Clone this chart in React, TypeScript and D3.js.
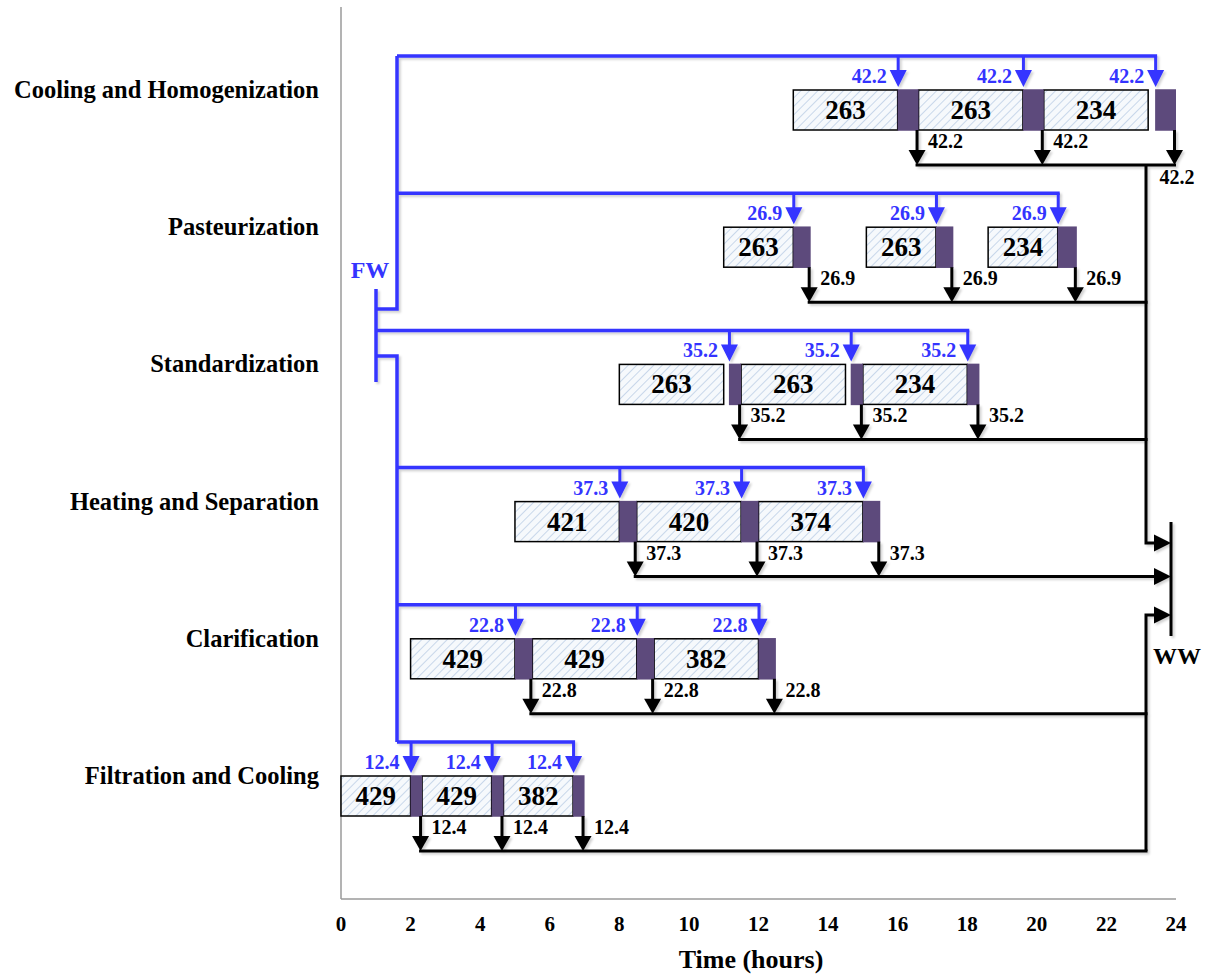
import React from "react";
import * as d3 from "d3";

const processes = [
  "Cooling and Homogenization",
  "Pasteurization",
  "Standardization",
  "Heating and Separation",
  "Clarification",
  "Filtration and Cooling",
];
const flowValues = [42.2, 26.9, 35.2, 37.3, 22.8, 12.4];
const taskStarts = [
  [13, 16.6, 20.2],
  [11, 15.1, 18.6],
  [8, 11.5, 15],
  [5, 8.5, 12],
  [2, 5.5, 9],
  [0, 2.33, 4.67],
];
const taskEnds = [
  [16, 19.6, 23.2],
  [13, 17.1, 20.6],
  [11, 14.5, 18],
  [8, 11.5, 15],
  [5, 8.5, 12],
  [2, 4.33, 6.67],
];
const taskLoads = [
  [263, 263, 234],
  [263, 263, 234],
  [263, 263, 234],
  [421, 420, 374],
  [429, 429, 382],
  [429, 429, 382],
];
const cleanStarts = [
  [16, 19.6, 23.4],
  [13, 17.1, 20.6],
  [11.15, 14.65, 18],
  [8, 11.5, 15],
  [5, 8.5, 12],
  [2, 4.33, 6.67],
];
const cleanEnds = [
  [16.6, 20.2, 24],
  [13.5, 17.6, 21.15],
  [11.5, 15, 18.35],
  [8.5, 12, 15.5],
  [5.5, 9, 12.5],
  [2.33, 4.67, 7],
];
const tickValues = [0, 2, 4, 6, 8, 10, 12, 14, 16, 18, 20, 22, 24];

const BLUE = "#3434ff";
const PURPLE = "#5d4a7c";
const FONT = "'Liberation Serif', 'Times New Roman', serif";

export default function App() {
  const W = 1205, H = 976;
  const x = d3.scaleLinear().domain([0, 24]).range([341, 1176]);
  const y = d3.scalePoint<string>().domain(processes).range([90, 776]);
  const boxH = 40;
  const blueOff = 34;
  const blackOff = 75;
  const axisY = 899;

  const trunkX = 376;
  const branchX = 397;
  const collectorX = 1146;
  const wwX = 1171;
  const wwTop = 522, wwBot = 636;
  const upperArrowY = 543;
  const lowerArrowY = 615;

  const blueLineY = (i: number) => (y(processes[i]) as number) - blueOff;
  const blackLineY = (i: number) => (y(processes[i]) as number) + blackOff;

  const downArrow = (ax: number, y0: number, tip: number, color: string, key: string, head = 16) => (
    <g key={key}>
      <line x1={ax} x2={ax} y1={y0} y2={tip - head + 2} stroke={color} strokeWidth={3} />
      <polygon points={`${ax - 8.5},${tip - head} ${ax + 8.5},${tip - head} ${ax},${tip}`} fill={color} />
    </g>
  );
  const rightArrowHead = (tipX: number, ay: number, key: string) => (
    <polygon key={key} points={`${tipX - 17},${ay - 8.5} ${tipX - 17},${ay + 8.5} ${tipX},${ay}`} fill="#000" />
  );

  const stdIndex = processes.indexOf("Standardization");
  const heatIndex = processes.indexOf("Heating and Separation");
  const topIdx = 0;
  const botIdx = processes.length - 1;

  return (
    <svg width={W} height={H} style={{ position: "absolute", left: 0, top: 0, background: "#fff" }} fontFamily={FONT}>
      <defs>
        <pattern id="hatch" width="6" height="6" patternUnits="userSpaceOnUse" patternTransform="rotate(45)">
          <rect width="6" height="6" fill="#f6f9fc" />
          <line x1="0" y1="0" x2="0" y2="6" stroke="#bccfe6" strokeWidth="1.6" />
        </pattern>
        <filter id="shadow" x="-5%" y="-5%" width="110%" height="110%">
          <feDropShadow dx="2" dy="2" stdDeviation="0.8" floodColor="#000" floodOpacity="0.18" />
        </filter>
      </defs>

      {/* axes */}
      <line x1={x(0)} x2={x(0)} y1={7} y2={axisY} stroke="#9a9a9a" strokeWidth={1.5} />
      <line x1={x(0)} x2={x(24)} y1={axisY} y2={axisY} stroke="#9a9a9a" strokeWidth={1.5} />
      {tickValues.map((t) => (
        <text key={"t" + t} x={x(t)} y={931} textAnchor="middle" fontSize={21} fontWeight="bold">
          {t}
        </text>
      ))}
      <text x={751} y={968} textAnchor="middle" fontSize={26} fontWeight="bold">
        Time (hours)
      </text>

      {/* row labels */}
      {processes.map((p) => (
        <text key={"l" + p} x={319} y={(y(p) as number) + 8} textAnchor="end" fontSize={24.5} fontWeight="bold">
          {p}
        </text>
      ))}

      {/* boxes */}
      {processes.map((p, i) => (
        <g key={"b" + p}>
          {taskStarts[i].map((s, j) => (
            <g key={j}>
              <rect
                x={x(s)}
                y={y(p) as number}
                width={x(taskEnds[i][j]) - x(s)}
                height={boxH}
                fill="url(#hatch)"
                stroke="#000"
                strokeWidth={1.5}
              />
              <text
                x={(x(s) + x(taskEnds[i][j])) / 2}
                y={(y(p) as number) + 29}
                textAnchor="middle"
                fontSize={27}
                fontWeight="bold"
              >
                {taskLoads[i][j]}
              </text>
            </g>
          ))}
          {cleanStarts[i].map((s, j) => (
            <rect
              key={"c" + j}
              x={x(s)}
              y={(y(p) as number) - 0.75}
              width={x(cleanEnds[i][j]) - x(s)}
              height={boxH + 1.5}
              fill={PURPLE}
            />
          ))}
        </g>
      ))}

      {/* fresh water network */}
      <g filter="url(#shadow)">
        <line x1={trunkX} x2={trunkX} y1={289} y2={382} stroke={BLUE} strokeWidth={3.5} />
        <polyline
          points={`${trunkX},309 ${branchX},309 ${branchX},${blueLineY(topIdx)}`}
          fill="none"
          stroke={BLUE}
          strokeWidth={3.5}
        />
        <polyline
          points={`${trunkX},356 ${branchX},356 ${branchX},${blueLineY(botIdx)}`}
          fill="none"
          stroke={BLUE}
          strokeWidth={3.5}
        />
        {processes.map((p, i) => {
          const ly = blueLineY(i);
          const startX = i === stdIndex ? trunkX : branchX;
          const ends = cleanStarts[i].map((s) => x(s) + 0.5);
          return (
            <g key={"fw" + p}>
              <line x1={startX} x2={ends[ends.length - 1] + 1.5} y1={ly} y2={ly} stroke={BLUE} strokeWidth={3.5} />
              {ends.map((ax, j) => downArrow(ax, ly, (y(p) as number) - 3, BLUE, "ba" + j, 17))}
            </g>
          );
        })}
      </g>
      <text x={370} y={278} textAnchor="middle" fontSize={24} fontWeight="bold" fill={BLUE}>
        FW
      </text>
      {processes.map((p, i) =>
        cleanStarts[i].map((s, j) => (
          <text
            key={"bl" + i + j}
            x={x(s) - 11}
            y={(y(p) as number) - 7}
            textAnchor="end"
            fontSize={20}
            fontWeight="bold"
            fill={BLUE}
          >
            {flowValues[i]}
          </text>
        ))
      )}

      {/* waste water network */}
      <g filter="url(#shadow)">
        {processes.map((p, i) => {
          const ly = blackLineY(i);
          const arrowsX = cleanEnds[i].map((e) => x(e) - 1.5);
          const lineEnd = i === heatIndex ? wwX - 15 : Math.max(collectorX + 1.5, arrowsX[arrowsX.length - 1] + 1.5);
          return (
            <g key={"ww" + p}>
              <line x1={arrowsX[0] - 1.5} x2={lineEnd} y1={ly} y2={ly} stroke="#000" strokeWidth={3} />
              {arrowsX.map((ax, j) => downArrow(ax, (y(p) as number) + boxH, ly, "#000", "ka" + j, 15))}
            </g>
          );
        })}
        <polyline
          points={`${collectorX},${blackLineY(topIdx)} ${collectorX},${upperArrowY} ${wwX - 15},${upperArrowY}`}
          fill="none"
          stroke="#000"
          strokeWidth={3}
        />
        <polyline
          points={`${collectorX},${blackLineY(botIdx)} ${collectorX},${lowerArrowY} ${wwX - 15},${lowerArrowY}`}
          fill="none"
          stroke="#000"
          strokeWidth={3}
        />
        {rightArrowHead(wwX, upperArrowY, "r1")}
        {rightArrowHead(wwX, blackLineY(heatIndex), "r2")}
        {rightArrowHead(wwX, lowerArrowY, "r3")}
        <line x1={wwX} x2={wwX} y1={wwTop} y2={wwBot} stroke="#000" strokeWidth={3} />
      </g>
      <text x={1177} y={664} textAnchor="middle" fontSize={24} fontWeight="bold">
        WW
      </text>
      {processes.map((p, i) =>
        cleanEnds[i].map((e, j) => {
          const ax = x(e) - 1.5;
          const below = ax > collectorX + 5;
          return (
            <text
              key={"kl" + i + j}
              x={below ? ax - 15 : ax + 11}
              y={below ? blackLineY(i) + 19 : (y(p) as number) + boxH + 18}
              fontSize={20}
              fontWeight="bold"
            >
              {flowValues[i]}
            </text>
          );
        })
      )}
    </svg>
  );
}
